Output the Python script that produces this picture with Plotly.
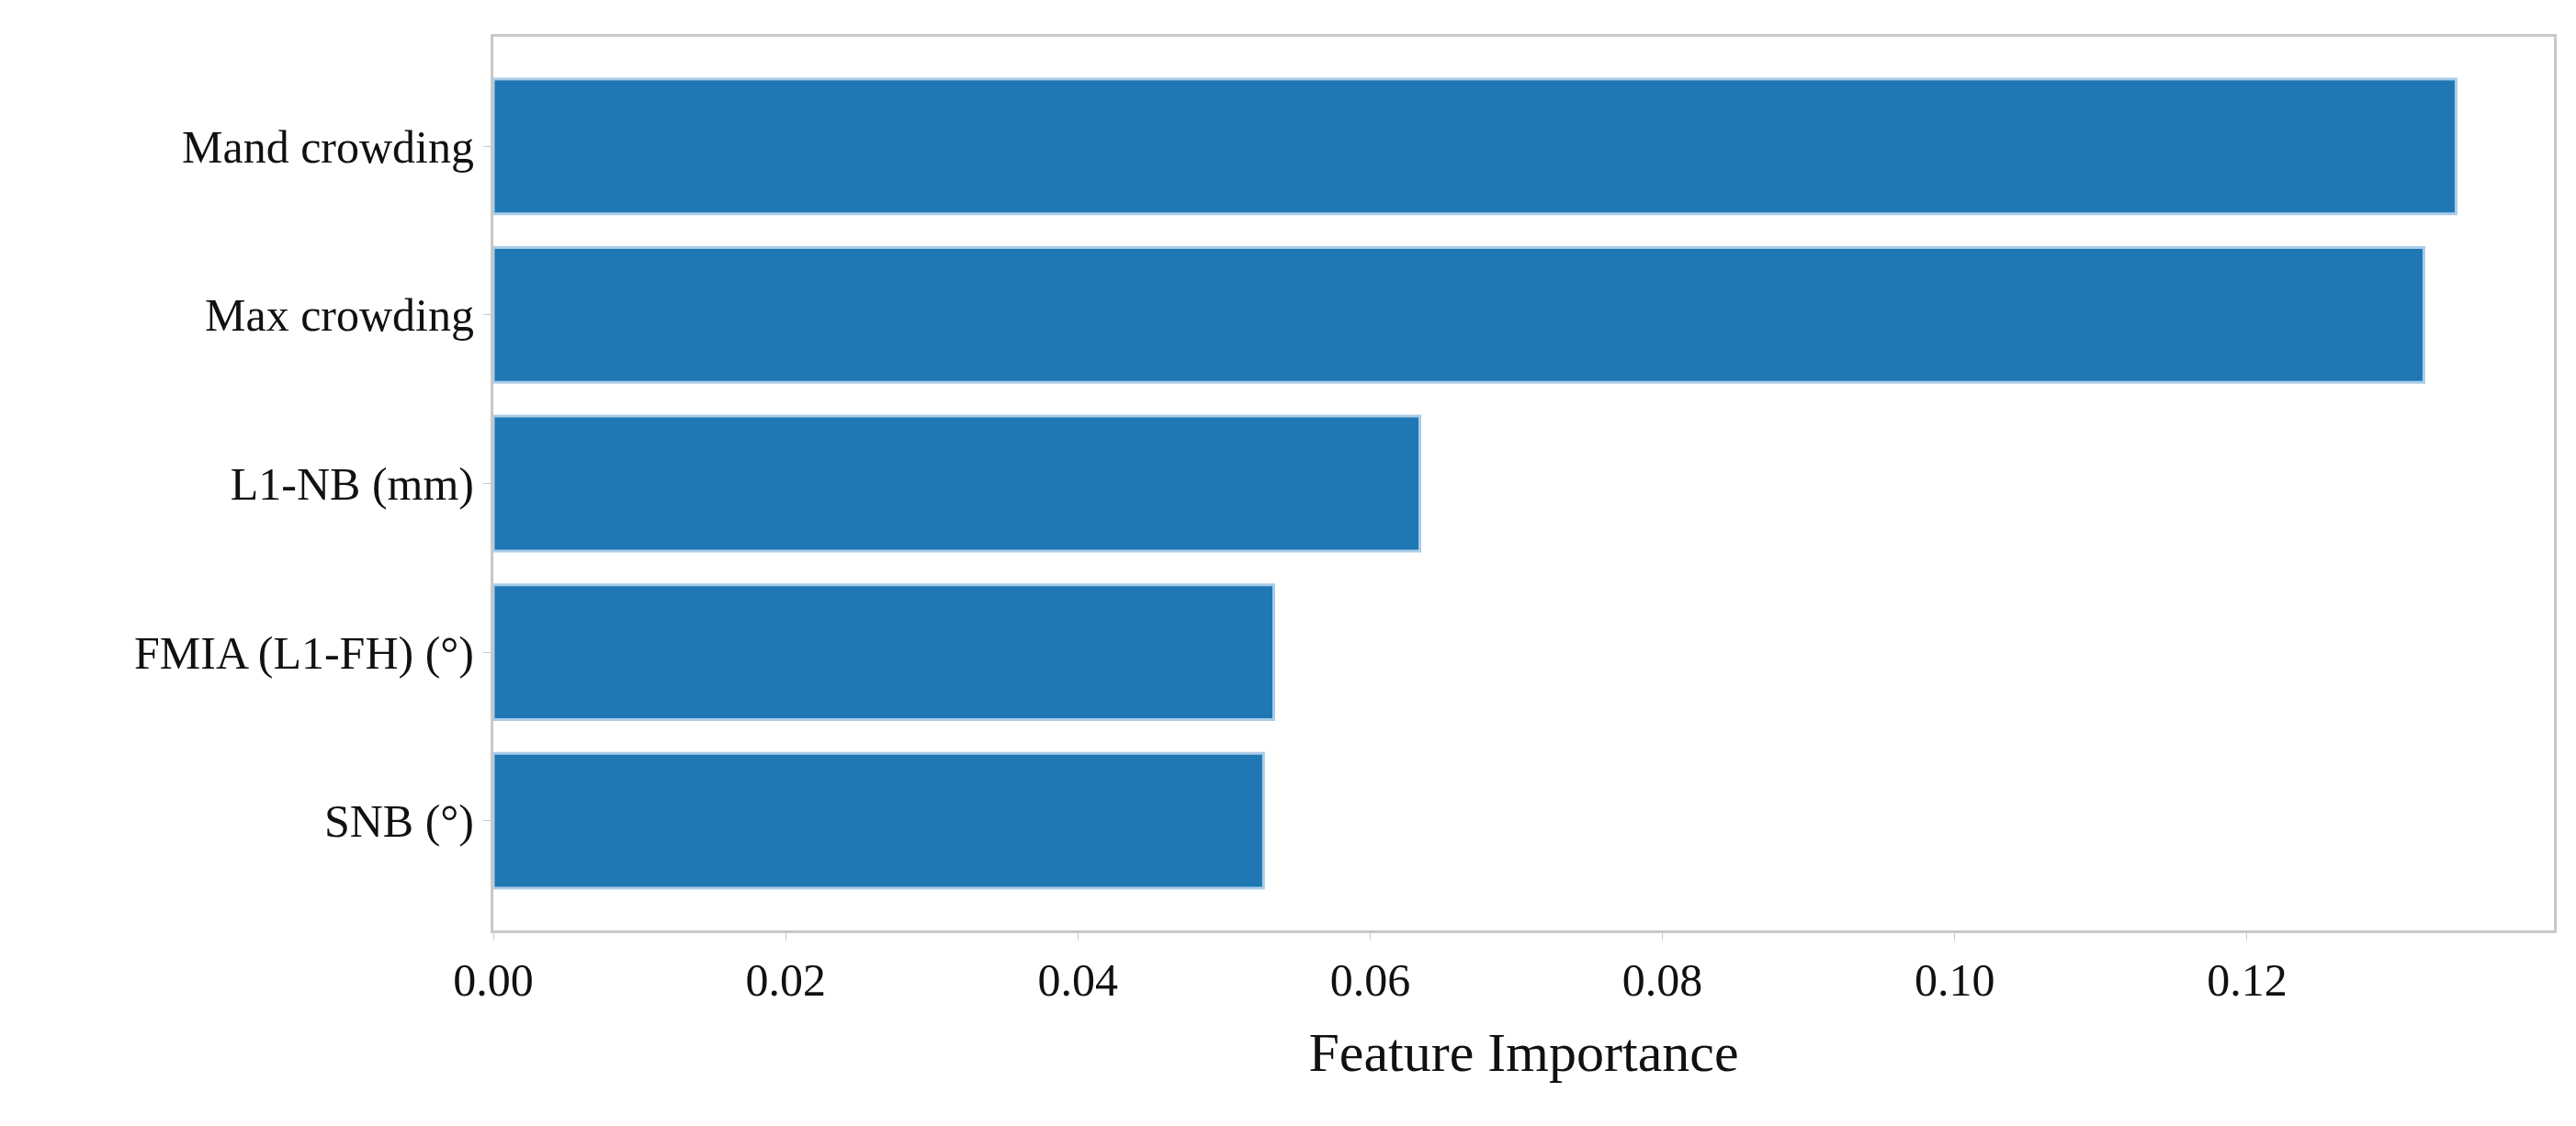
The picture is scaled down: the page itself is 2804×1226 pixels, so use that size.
import plotly.graph_objects as go

features = ["Mand crowding", "Max crowding", "L1-NB (mm)", "FMIA (L1-FH) (°)", "SNB (°)"]
importance = [0.1343, 0.1321, 0.0634, 0.0534, 0.0527]
x_ticks = [0.0, 0.02, 0.04, 0.06, 0.08, 0.10, 0.12]
x_tick_labels = ["0.00", "0.02", "0.04", "0.06", "0.08", "0.10", "0.12"]

fig = go.Figure(go.Bar(
    x=importance[::-1], y=features[::-1], orientation="h",
    marker=dict(color="#1f77b4", line=dict(color="#a9cce8", width=3)),
    width=0.8,
))

font = dict(family="Liberation Serif", size=50, color="#111")
axis_common = dict(showline=True, linecolor="#c8c8c8", linewidth=3, mirror=True,
                   ticks="outside", ticklen=8, tickcolor="#c8c8c8", showgrid=False,
                   zeroline=False)
fig.update_layout(
    width=2804, height=1226, plot_bgcolor="white", paper_bgcolor="white",
    margin=dict(l=529, r=32, t=32, b=221), font=font, showlegend=False,
    xaxis=dict(range=[0, 0.141], tickvals=x_ticks, ticktext=x_tick_labels,
               title=dict(text="Feature Importance", standoff=30), **axis_common),
    yaxis=dict(range=[-0.65, 4.65], **axis_common),
)
fig.write_html("out.html")
